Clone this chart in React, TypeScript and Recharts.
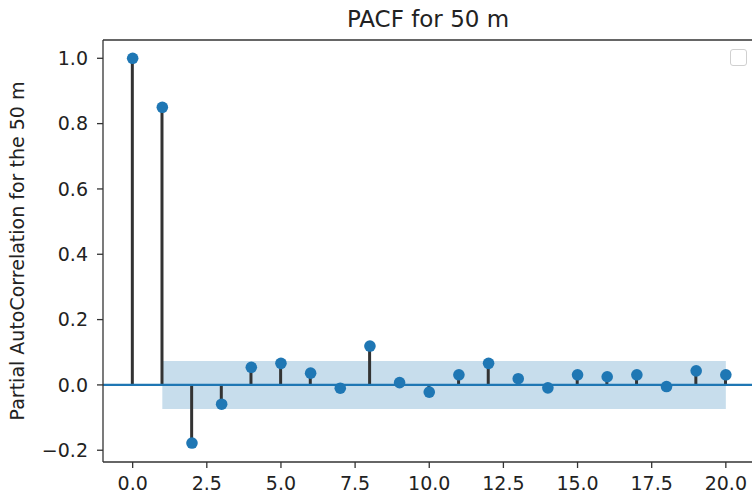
import {
  ComposedChart,
  XAxis,
  YAxis,
  Area,
  Bar,
  Scatter,
  ReferenceLine,
} from "recharts";

const lags = [0, 1, 2, 3, 4, 5, 6, 7, 8, 9, 10, 11, 12, 13, 14, 15, 16, 17, 18, 19, 20];
const pacf = [
  1.0, 0.85, -0.178, -0.059, 0.054, 0.066, 0.036, -0.01, 0.119, 0.007, -0.022,
  0.031, 0.066, 0.019, -0.009, 0.031, 0.025, 0.031, -0.005, 0.043, 0.031,
];
// 95% confidence half-width (same for every lag >= 1)
const confidence = 0.0735;
const xTicks = [0, 2.5, 5, 7.5, 10, 12.5, 15, 17.5, 20];
const yTicks = [-0.2, 0, 0.2, 0.4, 0.6, 0.8, 1.0];
const yDomain = [-0.236, 1.056];

const BLUE = "#1f77b4";
const FONT = "'DejaVu Sans', sans-serif";

const data = lags.map((lag, i) => ({
  lag,
  value: pacf[i],
  band: lag >= 1 ? [-confidence, confidence] : null,
}));

const fmt = (v: number) => v.toFixed(1).replace("-", "\u2212");

const Dot = (props: any) => (
  <circle cx={props.cx} cy={props.cy} r={5.8} fill={BLUE} />
);

const YLabel = (props: any) => {
  const vb = props.viewBox;
  const cy = vb.y + vb.height / 2;
  return (
    <text
      transform={`translate(24, ${cy}) rotate(-90)`}
      textAnchor="middle"
      fontSize={19}
      fontFamily={FONT}
      fill="#222"
    >
      Partial AutoCorrelation for the 50 m
    </text>
  );
};

export default function App() {
  const tickStyle = { fontSize: 19, fill: "#222", fontFamily: FONT };
  return (
    <div
      style={{
        position: "absolute",
        left: 0,
        top: 0,
        width: 752,
        height: 497,
        overflow: "hidden",
        background: "#fff",
      }}
    >
      <div
        style={{
          position: "absolute",
          left: 228,
          top: 8,
          width: 400,
          textAlign: "center",
          fontFamily: FONT,
          fontSize: 23,
          lineHeight: "23px",
          color: "#222",
        }}
      >
        PACF for 50 m
      </div>
      <ComposedChart
        width={760}
        height={497}
        data={data}
        margin={{ top: 40, right: 4.5, left: 0, bottom: 0 }}
      >
        <XAxis
          dataKey="lag"
          type="number"
          domain={[-1, 21]}
          ticks={xTicks}
          tickFormatter={fmt}
          tick={tickStyle}
          tickSize={6}
          tickMargin={9}
          height={35}
          stroke="#333"
          axisLine={{ stroke: "#333", strokeWidth: 1.3 }}
          tickLine={{ stroke: "#333", strokeWidth: 1.3 }}
          allowDataOverflow
        />
        <YAxis
          type="number"
          domain={yDomain}
          ticks={yTicks}
          tickFormatter={fmt}
          tick={tickStyle}
          tickSize={6}
          tickMargin={9}
          width={103}
          stroke="#333"
          axisLine={{ stroke: "#333", strokeWidth: 1.3 }}
          tickLine={{ stroke: "#333", strokeWidth: 1.3 }}
          allowDataOverflow
          label={<YLabel />}
        />
        <ReferenceLine y={yDomain[1]} stroke="#333" strokeWidth={1.3} ifOverflow="visible" />
        <Area
          dataKey="band"
          type="linear"
          stroke="none"
          fill={BLUE}
          fillOpacity={0.25}
          isAnimationActive={false}
          dot={false}
          activeDot={false}
        />
        <ReferenceLine y={0} stroke={BLUE} strokeWidth={2.2} />
        <Bar dataKey="value" fill="#333" barSize={3} isAnimationActive={false} />
        <Scatter dataKey="value" shape={<Dot />} isAnimationActive={false} />
      </ComposedChart>
      <div
        style={{
          position: "absolute",
          left: 730,
          top: 49,
          width: 17,
          height: 17,
          boxSizing: "border-box",
          border: "1px solid #d0d0d0",
          borderRadius: 3,
          background: "#fff",
        }}
      />
    </div>
  );
}
